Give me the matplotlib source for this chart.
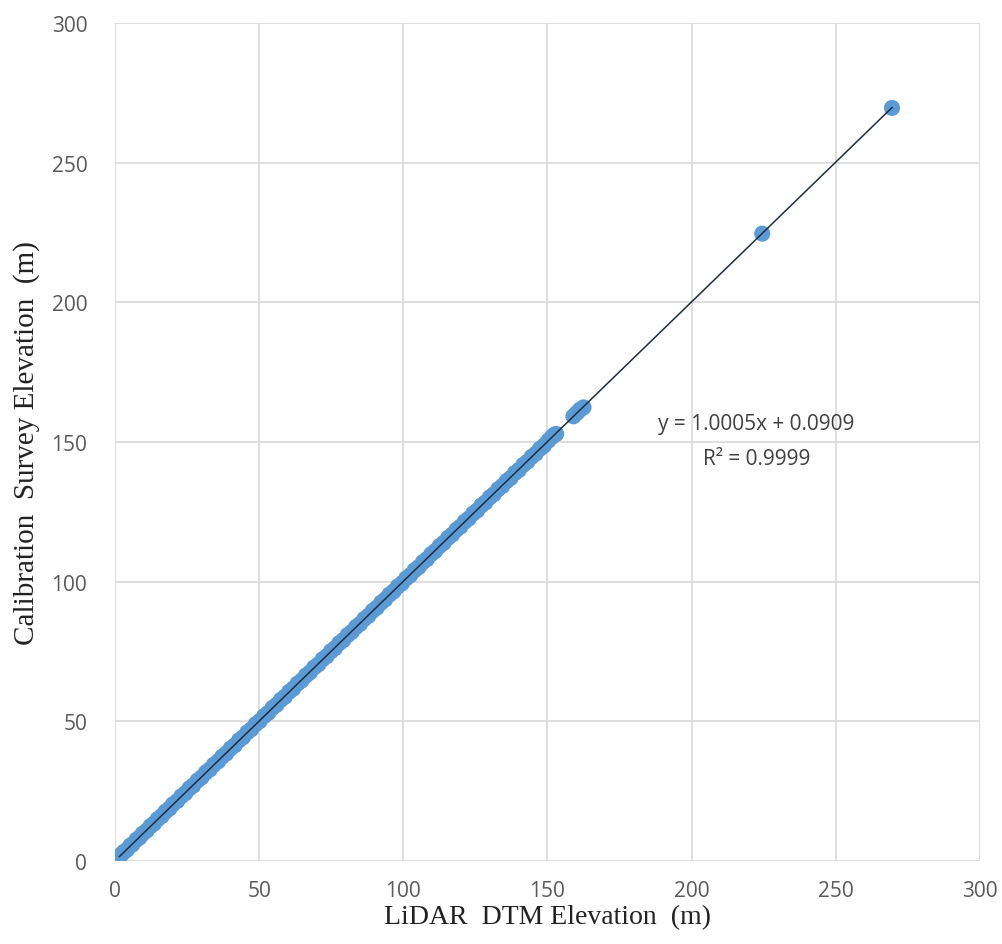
import numpy as np
import matplotlib
matplotlib.use("Agg")
from matplotlib import pyplot as plt

# LiDAR DTM elevation vs calibration survey elevation (m)
lidar_dtm = [1.5, 2.2, 3.0, 4.1, 5.3, 6.0, 7.4, 8.5, 9.6, 11.0, 12.3, 13.5, 14.8, 16.2,
             17.5, 18.9, 20.1, 21.6, 23.0, 24.4, 25.8, 27.1, 28.6, 30.0, 31.5, 32.9,
             34.3, 35.8, 37.2, 38.6, 40.1, 41.5, 43.0, 44.4, 45.9, 47.3, 48.8, 50.2,
             51.7, 53.1, 54.6, 56.0, 57.5, 58.9, 60.4, 61.8, 63.3, 64.7, 66.2, 67.6,
             69.1, 70.5, 72.0, 73.4, 74.9, 76.3, 77.8, 79.2, 80.7, 82.1, 83.6, 85.0,
             86.5, 87.9, 89.4, 90.8, 92.3, 93.7, 95.2, 96.6, 98.1, 99.5, 101.0, 102.4,
             103.9, 105.3, 106.8, 108.2, 109.7, 111.1, 112.6, 114.0, 115.5, 116.9,
             118.4, 119.8, 121.3, 122.7, 124.2, 125.6, 127.1, 128.5, 130.0, 131.4,
             132.9, 134.3, 135.8, 137.2, 138.7, 140.1, 141.6, 143.0, 144.5, 145.9,
             147.4, 148.8, 150.3, 151.5, 152.4, 153.0, 159.0, 160.2, 161.3, 162.5,
             224.5, 269.5]
survey = [1.8, 2.3, 3.2, 4.0, 5.5, 5.9, 7.6, 8.4, 9.8, 10.9, 12.5, 13.4, 15.0, 16.1,
          17.7, 18.8, 20.3, 21.5, 23.2, 24.3, 26.0, 27.0, 28.8, 29.9, 31.7, 32.8,
          34.5, 35.7, 37.4, 38.5, 40.3, 41.4, 43.2, 44.3, 46.1, 47.2, 49.0, 50.1,
          51.9, 53.0, 54.8, 55.9, 57.7, 58.8, 60.6, 61.7, 63.5, 64.6, 66.4, 67.5,
          69.3, 70.4, 72.2, 73.3, 75.1, 76.2, 78.0, 79.1, 80.9, 82.0, 83.8, 84.9,
          86.7, 87.8, 89.6, 90.7, 92.5, 93.6, 95.4, 96.5, 98.3, 99.4, 101.2, 102.3,
          104.1, 105.2, 107.0, 108.1, 109.9, 111.0, 112.8, 113.9, 115.7, 116.8,
          118.6, 119.7, 121.5, 122.6, 124.4, 125.5, 127.3, 128.4, 130.2, 131.3,
          133.1, 134.2, 136.0, 137.1, 138.9, 140.0, 141.8, 142.9, 144.7, 145.8,
          147.6, 148.7, 150.5, 151.8, 152.6, 152.9, 159.2, 160.4, 161.6, 162.4,
          224.6, 269.6]

slope = 1.0005
intercept = 0.0909
r_squared = 0.9999

fig = plt.figure(figsize=(10.03, 9.45), dpi=100)
ax = fig.add_axes([0.1147, 0.0878, 0.8623, 0.8868])

ax.scatter(lidar_dtm, survey, s=135, color="#5B9BD5", edgecolors="none", zorder=3)

x_fit = np.array([min(lidar_dtm), max(lidar_dtm)])
ax.plot(x_fit, slope * x_fit + intercept, color="#1f2d3d", lw=1.1, zorder=4)

ax.text(222.5, 156.5, f"y = {slope:.4f}x + {intercept:.4f}", ha="center", va="center",
        fontsize=15, color="#404040", family="Open Sans")
ax.text(222.5, 144, f"R² = {r_squared:.4f}", ha="center", va="center",
        fontsize=15, color="#404040", family="Open Sans")

ax.set_xlim(0, 300)
ax.set_ylim(0, 300)
ax.set_xticks(range(0, 301, 50))
ax.set_yticks(range(0, 301, 50))
ax.grid(True, color="#d9d9d9", lw=1.2, zorder=0)
ax.set_axisbelow(True)
for s in ax.spines.values():
    s.set_visible(False)
ax.tick_params(length=0, labelsize=15, labelcolor="#595959")
ax.tick_params(axis="y", pad=20)
ax.tick_params(axis="x", pad=14)
for lab in ax.get_xticklabels() + ax.get_yticklabels():
    lab.set_family("Open Sans")

ax.set_xlabel("LiDAR  DTM Elevation  (m)", family="Liberation Serif", fontsize=20,
              color="#222222", labelpad=2)
ax.set_ylabel("Calibration  Survey Elevation  (m)", family="Liberation Serif", fontsize=21,
              color="#222222", labelpad=8)

fig.savefig("out.png", dpi=100)
